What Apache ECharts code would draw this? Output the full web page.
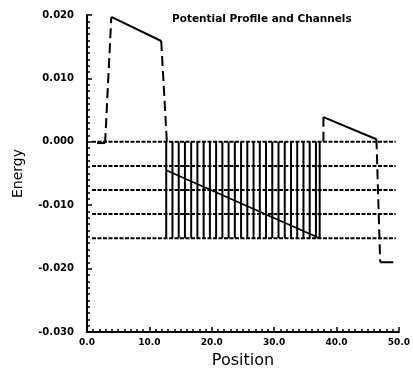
<!DOCTYPE html>
<html>
<head>
<meta charset="utf-8">
<script src="https://cdn.jsdelivr.net/npm/echarts@6/dist/echarts.min.js"></script>
<style>
html,body{margin:0;padding:0;background:#fff;}
#chart{width:413px;height:374px;}
</style>
</head>
<body>
<div id="chart"></div>
<script>
// ---- data ----
const xTicks = [0, 10, 20, 30, 40, 50];
const yTicks = [-0.03, -0.02, -0.01, 0, 0.01, 0.02];
// channel energy levels (dotted horizontal lines)
const channelLevels = [0, -0.0038, -0.0076, -0.0114, -0.0152];
const channelRange = [0.8, 49.5];
// vertical grid lines inside the channel block
const blockPositions = [12.7, 13.7, 14.7, 15.7, 16.7, 17.7, 18.7, 19.7, 20.7, 21.7, 22.7, 23.7, 24.7,
  25.7, 26.7, 27.7, 28.7, 29.7, 30.7, 31.7, 32.7, 33.7, 34.7, 35.7, 36.7, 37.3];
const blockRange = [0, -0.0152];
// diagonal potential inside the block
const diagonal = [[12.7, -0.0045], [37.3, -0.0152]];
// solid segments of the potential profile
const leftFlat = [[1.6, -0.0002], [2.9, -0.0002]];
const barrier1 = [[3.9, 0.0197], [11.9, 0.0159]];
const barrier2 = [[37.9, 0.0039], [46.4, 0.0004]];
const rightFlat = [[47.0, -0.019], [49.1, -0.019]];
// dashed transitions of the profile
const dropsAndRises = [
  [[2.9, -0.0002], [3.9, 0.0197]],
  [[11.9, 0.0159], [12.8, 0]],
  [[37.9, 0], [37.9, 0.0039]],
  [[46.4, 0.0004], [47.0, -0.019]]
];

const series = [];
channelLevels.forEach(function (lv) {
  series.push({type: 'line', data: [[channelRange[0], lv], [channelRange[1], lv]],
    showSymbol: false, silent: true, lineStyle: {color: '#000', width: 2, type: [4, 1.5]}});
});
blockPositions.forEach(function (p) {
  series.push({type: 'line', data: [[p, blockRange[0]], [p, blockRange[1]]],
    showSymbol: false, silent: true, lineStyle: {color: '#000', width: 2}});
});
series.push({type: 'line', data: diagonal, showSymbol: false, silent: true,
  lineStyle: {color: '#000', width: 1.6}});
[leftFlat, barrier1, barrier2, rightFlat].forEach(function (seg) {
  series.push({type: 'line', data: seg, showSymbol: false, silent: true,
    lineStyle: {color: '#000', width: 2}});
});
dropsAndRises.forEach(function (seg) {
  series.push({type: 'line', data: seg, showSymbol: false, silent: true,
    lineStyle: {color: '#000', width: 2, type: [10, 5]}});
});

const chart = echarts.init(document.getElementById('chart'), null, {renderer: 'canvas'});
chart.setOption({
  backgroundColor: '#fff',
  animation: false,
  title: {
    text: 'Potential Profile and Channels',
    left: 167, top: 9,
    textStyle: {fontFamily: 'DejaVu Sans', fontWeight: 'bold', fontSize: 10.5, color: '#000'}
  },
  grid: {left: 87, right: 10, top: 15, bottom: 42, containLabel: false},
  xAxis: {
    type: 'value', min: xTicks[0], max: xTicks[xTicks.length - 1], interval: 10,
    name: 'Position', nameLocation: 'middle', nameGap: 21,
    nameTextStyle: {fontFamily: 'DejaVu Sans', fontSize: 16, color: '#000'},
    axisLine: {show: true, onZero: false, lineStyle: {color: '#000', width: 2}},
    axisTick: {show: true, inside: true, length: 5, lineStyle: {color: '#000', width: 1.5}},
    minorTick: {show: true, splitNumber: 10, length: 3, lineStyle: {color: '#000', width: 1.5}},
    splitLine: {show: false},
    axisLabel: {
      color: '#000', fontFamily: 'DejaVu Sans', fontWeight: 'bold', fontSize: 9, margin: 6,
      formatter: function (v) { return v.toFixed(1); }
    }
  },
  yAxis: {
    type: 'value', min: yTicks[0], max: yTicks[yTicks.length - 1], interval: 0.01,
    name: 'Energy', nameLocation: 'middle', nameGap: 62, nameRotate: 90,
    nameTextStyle: {fontFamily: 'DejaVu Sans', fontSize: 14, color: '#000'},
    axisLine: {show: true, onZero: false, lineStyle: {color: '#000', width: 2}},
    axisTick: {show: true, inside: true, length: 5, lineStyle: {color: '#000', width: 1.5}},
    minorTick: {show: true, splitNumber: 10, length: 3, lineStyle: {color: '#000', width: 1.5}},
    splitLine: {show: false},
    axisLabel: {
      color: '#000', fontFamily: 'DejaVu Sans', fontWeight: 'bold', fontSize: 10, margin: 13,
      formatter: function (v) { return v.toFixed(3); }
    }
  },
  series: series
});
</script>
</body>
</html>
